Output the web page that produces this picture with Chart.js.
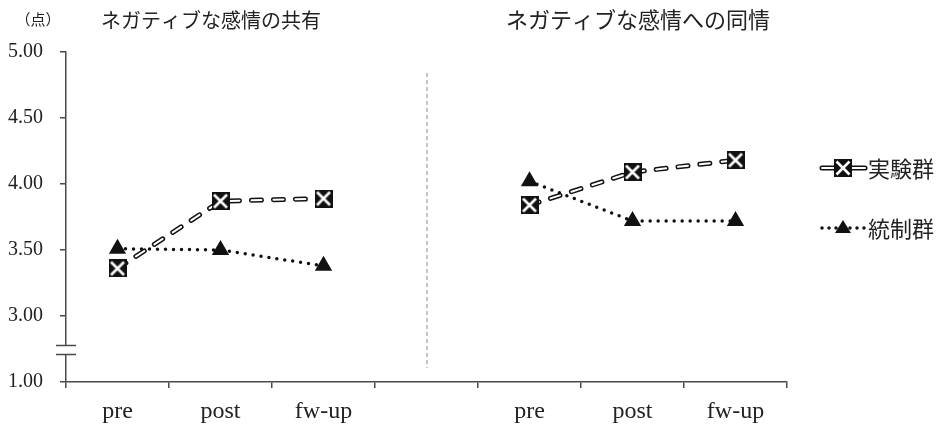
<!DOCTYPE html>
<html>
<head>
<meta charset="utf-8">
<script src="https://cdn.jsdelivr.net/npm/chart.js@4"></script>
<style>
  body { margin: 0; background: #fff; }
  #wrap { width: 944px; height: 428px; position: relative; }
</style>
</head>
<body>
<div id="wrap"><canvas id="chart"></canvas></div>
<script>
// categories: two panels, blank slot in between
const categories = ["pre", "post", "fw-up", "", "pre", "post", "fw-up"];
const yTicks = [2.5, 3.0, 3.5, 4.0, 4.5, 5.0];
const yTickLabels = ["1.00", "3.00", "3.50", "4.00", "4.50", "5.00"];

// 実験群 (experimental group)
const jikkenShare = [3.36, 3.87, 3.89];
const jikkenSympathy = [3.84, 4.09, 4.18];
// 統制群 (control group)
const touseiShare = [3.51, 3.50, 3.38];
const touseiSympathy = [4.02, 3.72, 3.72];

const panelTitles = ["ネガティブな感情の共有", "ネガティブな感情への同情"];
const unitLabel = "（点）";
const seriesNames = ["実験群", "統制群"];

const jikken = [...jikkenShare, null, ...jikkenSympathy];
const tousei = [...touseiShare, null, ...touseiSympathy];

const INK = "#111";
const AXIS = "#4a4a4a";
const CJK = '"Noto Sans CJK JP", "Noto Sans", sans-serif';
const SERIF = '"Liberation Serif", "DejaVu Serif", serif';

// square marker with white X
function makeXBox(size) {
  const c = document.createElement("canvas");
  c.width = size; c.height = size;
  const g = c.getContext("2d");
  g.fillStyle = INK;
  g.fillRect(0, 0, size, size);
  g.strokeStyle = "#fff";
  g.lineWidth = 2.6;
  g.beginPath();
  g.moveTo(2.5, 2.5); g.lineTo(size - 2.5, size - 2.5);
  g.moveTo(size - 2.5, 2.5); g.lineTo(2.5, size - 2.5);
  g.stroke();
  return c;
}
const xBox = makeXBox(18);

const decor = {
  id: "decor",
  afterDraw(chart) {
    const ctx = chart.ctx;
    const xs = chart.scales.x;
    ctx.save();

    // divider between panels
    const xm = xs.getPixelForValue(3);
    ctx.strokeStyle = "#888";
    ctx.lineWidth = 1;
    ctx.setLineDash([4, 3]);
    ctx.beginPath();
    ctx.moveTo(xm + 0.5, 73);
    ctx.lineTo(xm + 0.5, 368);
    ctx.stroke();
    ctx.setLineDash([]);

    // axis break between 1.00 and 3.00
    const ax = chart.chartArea.left;
    ctx.fillStyle = "#fff";
    ctx.fillRect(ax - 2, 346, 4, 8);
    ctx.strokeStyle = AXIS;
    ctx.lineWidth = 1.5;
    ctx.beginPath();
    ctx.moveTo(ax - 10, 345.5); ctx.lineTo(ax + 10, 345.5);
    ctx.moveTo(ax - 10, 354.5); ctx.lineTo(ax + 10, 354.5);
    ctx.stroke();

    // titles
    ctx.fillStyle = "#222";
    ctx.textBaseline = "middle";
    ctx.textAlign = "center";
    ctx.font = "15px " + CJK;
    ctx.fillText(unitLabel, 38, 19);
    ctx.font = "20px " + CJK;
    ctx.fillText(panelTitles[0], 211, 20);
    ctx.font = "22px " + CJK;
    ctx.fillText(panelTitles[1], 638, 20);

    // legend
    const lx0 = 822, lx1 = 865, lm = 843;
    let ly = 168;
    ctx.lineCap = "round";
    ctx.strokeStyle = INK; ctx.lineWidth = 5;
    ctx.beginPath(); ctx.moveTo(lx0, ly); ctx.lineTo(lx1, ly); ctx.stroke();
    ctx.strokeStyle = "#fff"; ctx.lineWidth = 2;
    ctx.beginPath(); ctx.moveTo(lx0, ly); ctx.lineTo(lx1, ly); ctx.stroke();
    ctx.drawImage(xBox, lm - 9, ly - 9);
    ly = 228;
    ctx.strokeStyle = INK; ctx.lineWidth = 3.5;
    ctx.setLineDash([0, 7]);
    ctx.beginPath(); ctx.moveTo(lx0, ly); ctx.lineTo(lx1, ly); ctx.stroke();
    ctx.setLineDash([]);
    ctx.fillStyle = INK;
    ctx.beginPath();
    ctx.moveTo(lm, ly - 8); ctx.lineTo(lm + 8, ly + 5); ctx.lineTo(lm - 8, ly + 5);
    ctx.closePath(); ctx.fill();

    ctx.fillStyle = "#222";
    ctx.textAlign = "left";
    ctx.font = "22px " + CJK;
    ctx.fillText(seriesNames[0], 868, 169);
    ctx.fillText(seriesNames[1], 868, 229);
    ctx.restore();
  }
};

new Chart(document.getElementById("chart"), {
  type: "line",
  data: {
    labels: categories,
    datasets: [
      {
        // outer stroke of the hollow dashed line
        label: "outer",
        data: jikken,
        borderColor: INK,
        borderWidth: 5,
        borderDash: [10, 12],
        borderCapStyle: "round",
        pointRadius: 0,
        spanGaps: false,
        order: 5
      },
      {
        label: "inner",
        data: jikken,
        borderColor: "#fff",
        borderWidth: 2,
        borderDash: [10, 12],
        borderCapStyle: "round",
        pointRadius: 0,
        spanGaps: false,
        order: 4
      },
      {
        label: seriesNames[1],
        data: tousei,
        borderColor: INK,
        borderWidth: 3.5,
        borderDash: [0, 8],
        borderCapStyle: "round",
        pointStyle: "triangle",
        pointRadius: 10,
        pointBackgroundColor: INK,
        pointBorderColor: INK,
        pointBorderWidth: 0,
        spanGaps: false,
        order: 3
      },
      {
        label: seriesNames[0],
        data: jikken,
        showLine: false,
        pointStyle: xBox,
        pointRadius: 9,
        order: 1
      }
    ]
  },
  options: {
    responsive: true,
    maintainAspectRatio: false,
    animation: false,
    layout: { padding: { top: 52, right: 157, left: 0, bottom: 0 } },
    plugins: {
      legend: { display: false },
      tooltip: { enabled: false }
    },
    scales: {
      x: {
        offset: true,
        grid: { offset: true, drawOnChartArea: false, tickLength: 6, color: AXIS, lineWidth: 1.5 },
        border: { color: AXIS, width: 1.5 },
        ticks: {
          color: "#222",
          font: { family: SERIF, size: 24 },
          padding: 9,
          maxRotation: 0,
          autoSkip: false
        },
        afterFit(scale) { scale.height = 46; }
      },
      y: {
        min: 2.5,
        max: 5,
        afterBuildTicks(scale) {
          scale.ticks = yTicks.map(v => ({ value: v }));
        },
        grid: { drawOnChartArea: false, tickLength: 6, color: AXIS, lineWidth: 1.5 },
        border: { color: AXIS, width: 1.5 },
        ticks: {
          color: "#222",
          font: { family: SERIF, size: 20 },
          padding: 17,
          callback(v) {
            const i = yTicks.indexOf(v);
            return i >= 0 ? yTickLabels[i] : "";
          }
        },
        afterFit(scale) { scale.width = 66; }
      }
    }
  },
  plugins: [decor]
});
</script>
</body>
</html>
